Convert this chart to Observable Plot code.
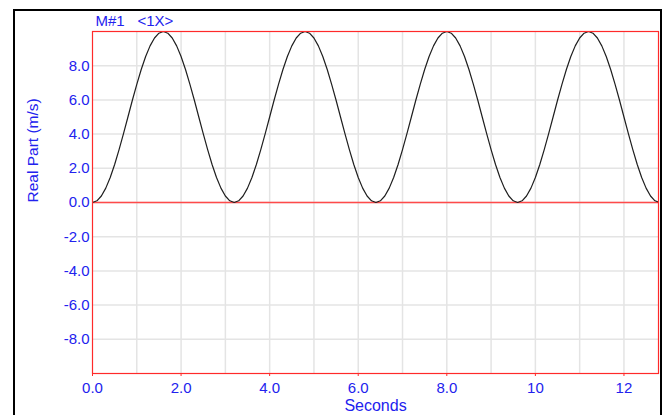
<!DOCTYPE html>
<html>
<head>
<meta charset="utf-8">
<script src="https://cdn.jsdelivr.net/npm/d3@7"></script>
<script src="https://cdn.jsdelivr.net/npm/@observablehq/plot@0.6"></script>
<style>
  html, body { margin: 0; padding: 0; background: #ffffff; }
  #chart { width: 665px; height: 415px; }
</style>
</head>
<body>
<div id="chart"></div>
<script>
// ---- data ----
const titleLeft = "M#1";
const titleRight = "<1X>";
const xLabel = "Seconds";
const yLabel = "Real Part (m/s)";

const xTicks = [0, 2, 4, 6, 8, 10, 12];
const xTickLabels = ["0.0", "2.0", "4.0", "6.0", "8.0", "10", "12"];
const xGridLines = [1, 2, 3, 4, 5, 6, 7, 8, 9, 10, 11, 12];

const yTicks = [-8, -6, -4, -2, 0, 2, 4, 6, 8];
const yTickLabels = ["-8.0", "-6.0", "-4.0", "-2.0", "0.0", "2.0", "4.0", "6.0", "8.0"];

const sampleStep = 0.1; // seconds between samples
const realPart = [
  0.00, 0.10, 0.38, 0.84, 1.46, 2.22, 3.09, 4.03, 5.00, 5.98, 6.91, 7.78, 8.54, 9.16, 9.62, 9.90,
  10.00, 9.90, 9.62, 9.16, 8.54, 7.78, 6.91, 5.98, 5.00, 4.03, 3.09, 2.22, 1.46, 0.84, 0.38, 0.10,
  0.00, 0.10, 0.38, 0.84, 1.46, 2.22, 3.09, 4.03, 5.00, 5.98, 6.91, 7.78, 8.54, 9.16, 9.62, 9.90,
  10.00, 9.90, 9.62, 9.16, 8.54, 7.78, 6.91, 5.98, 5.00, 4.03, 3.09, 2.22, 1.46, 0.84, 0.38, 0.10,
  0.00, 0.10, 0.38, 0.84, 1.46, 2.22, 3.09, 4.03, 5.00, 5.98, 6.91, 7.78, 8.54, 9.16, 9.62, 9.90,
  10.00, 9.90, 9.62, 9.16, 8.54, 7.78, 6.91, 5.98, 5.00, 4.03, 3.09, 2.22, 1.46, 0.84, 0.38, 0.10,
  0.00, 0.10, 0.38, 0.84, 1.46, 2.22, 3.09, 4.03, 5.00, 5.98, 6.91, 7.78, 8.54, 9.16, 9.62, 9.90,
  10.00, 9.90, 9.62, 9.16, 8.54, 7.78, 6.91, 5.98, 5.00, 4.03, 3.09, 2.22, 1.46, 0.84, 0.38, 0.10,
  0.00
];

// ---- build table ----
const data = realPart.map((v, i) => ({t: i * sampleStep, v}));
const xLabelMap = new Map(xTicks.map((d, i) => [d, xTickLabels[i]]));
const yLabelMap = new Map(yTicks.map((d, i) => [d, yTickLabels[i]]));

const blue = "#2222ee";
const gridColor = "#e4e4e4";

const svg = Plot.plot({
  width: 665,
  height: 415,
  marginLeft: 92,
  marginTop: 31,
  marginRight: 7,
  marginBottom: 42,
  x: {domain: [0, 12.78]},
  y: {domain: [-10, 10]},
  style: {
    fontFamily: "Arial, 'Liberation Sans', sans-serif",
    fontSize: "15px",
    background: "#ffffff",
    overflow: "visible"
  },
  marks: [
    Plot.gridX(xGridLines, {stroke: gridColor, strokeOpacity: 1, strokeWidth: 1.5}),
    Plot.gridY(yTicks, {stroke: gridColor, strokeOpacity: 1, strokeWidth: 1.5}),
    Plot.ruleY([0], {stroke: "#ff4a4a", strokeWidth: 1.6}),
    Plot.line(data, {x: "t", y: "v", stroke: "#1e1e1e", strokeWidth: 1.2, clip: true}),
    Plot.frame({stroke: "#ff2a2a", strokeWidth: 1.2}),
    Plot.axisX(xTicks, {
      tickFormat: d => xLabelMap.get(d),
      tickSize: 3, tickPadding: 6,
      stroke: "#ff2a2a", fill: blue,
      fontSize: 15,
      label: null
    }),
    Plot.axisY(yTicks, {
      tickFormat: d => yLabelMap.get(d),
      tickSize: 0, tickPadding: 3,
      fill: blue,
      fontSize: 15,
      label: null
    }),
    Plot.text([xLabel], {frameAnchor: "bottom", lineAnchor: "middle", dy: 32, fill: blue, fontSize: 16}),
    Plot.text([yLabel], {frameAnchor: "left", lineAnchor: "middle", dx: -59, rotate: -90, fill: blue, fontSize: 15.5}),
    Plot.text([titleLeft], {frameAnchor: "top-left", lineAnchor: "middle", dx: 3, dy: -10, textAnchor: "start", fill: blue, fontSize: 15}),
    Plot.text([titleRight], {frameAnchor: "top-left", lineAnchor: "middle", dx: 45, dy: -10, textAnchor: "start", fill: blue, fontSize: 15})
  ]
});

// outer panel border
d3.select(svg).append("rect")
  .attr("x", 14).attr("y", 10)
  .attr("width", 647).attr("height", 420)
  .attr("fill", "none").attr("stroke", "#000").attr("stroke-width", 2);

document.getElementById("chart").appendChild(svg);
</script>
</body>
</html>
